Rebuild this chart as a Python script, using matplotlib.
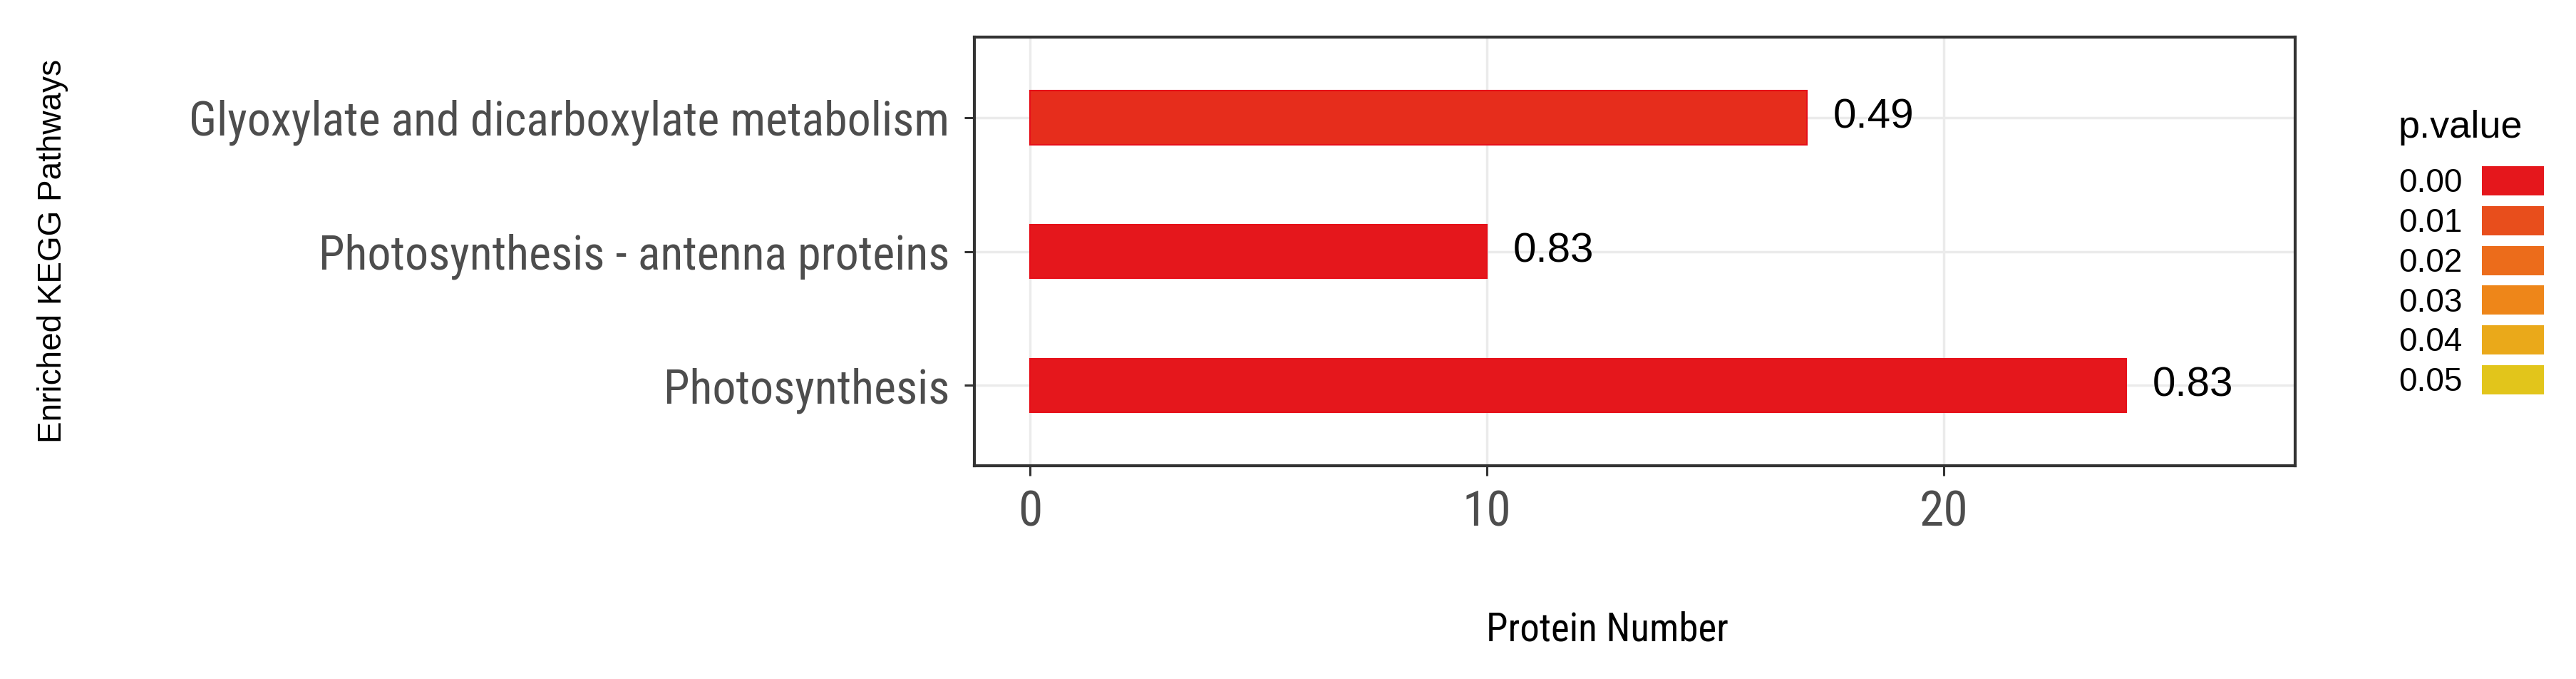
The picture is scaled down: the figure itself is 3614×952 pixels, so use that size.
import matplotlib.pyplot as plt
from matplotlib.colors import LinearSegmentedColormap
from matplotlib.patches import Patch

pathways = ["Photosynthesis", "Photosynthesis - antenna proteins",
            "Glyoxylate and dicarboxylate metabolism"]
counts = [24, 10, 17]
pvals = [0.0, 0.0, 0.004]
labels = ["0.83", "0.83", "0.49"]

legend_breaks = [0.00, 0.01, 0.02, 0.03, 0.04, 0.05]
legend_colors = ["#E5171C", "#E84E1C", "#EC6C1B", "#EE8619", "#EAA91A", "#E2C51B"]

cmap = LinearSegmentedColormap.from_list("pv", legend_colors)
narrow = ["Roboto Condensed", "Archivo Narrow", "Sofia Sans Condensed", "DejaVu Sans"]
normal = ["Liberation Sans", "DejaVu Sans"]

fig = plt.figure(figsize=(36.14, 9.52), dpi=100)
ax = fig.add_axes([0.3783, 0.314, 0.891 - 0.3783, 0.945 - 0.314])

ypos = list(range(len(pathways)))
cols = [cmap(p / 0.05) for p in pvals]
ax.barh(ypos, counts, height=0.4, color=cols, edgecolor="#E60F19", linewidth=1.5, zorder=3)

for y, c, t in zip(ypos, counts, labels):
    ax.text(c + 0.58, y, t, va="center", ha="left", fontsize=42, family=normal, color="black", zorder=4)

ax.set_xlim(-1.22, 27.7)
ax.set_ylim(-0.6, 2.6)
ax.set_xticks([0, 10, 20])
ax.set_yticks(ypos)
ax.set_yticklabels(pathways, family=narrow, fontsize=47.5, color="#4D4D4D")
ax.set_xticklabels(["0", "10", "20"], family=narrow, fontsize=50, color="#4D4D4D")
ax.tick_params(axis="both", length=10, width=2.2, color="#333333")
ax.tick_params(axis="x", pad=13)
ax.tick_params(axis="y", pad=15)
ax.grid(True, color="#EBEBEB", linewidth=2.5, zorder=0)
ax.set_axisbelow(True)
for s in ax.spines.values():
    s.set_color("#333333")
    s.set_linewidth(3)

fig.text(0.0205, 0.63, "Enriched KEGG Pathways", rotation=90, ha="center", va="center",
         fontsize=33, family=normal, color="black")
fig.text(0.624, 0.0725, "Protein Number", ha="center", va="center",
         fontsize=39.5, family=narrow, color="black")

# legend: labels on the left, keys on the right (ggplot style)
fig.text(0.9311, 0.797, "p.value", ha="left", va="baseline", fontsize=39,
         family=normal, color="black")
handles = [Patch(facecolor=c, edgecolor="none") for c in legend_colors]
leg = fig.legend(handles, ["%.2f" % b for b in legend_breaks],
                 loc="upper left", bbox_to_anchor=(0.9311, 0.7553), frameon=False,
                 markerfirst=False, borderaxespad=0,
                 handlelength=1.9, handleheight=1.0, labelspacing=0.21,
                 handletextpad=0.6, borderpad=0,
                 prop={"family": normal, "size": 33})

plt.savefig("out.png", dpi=100)
